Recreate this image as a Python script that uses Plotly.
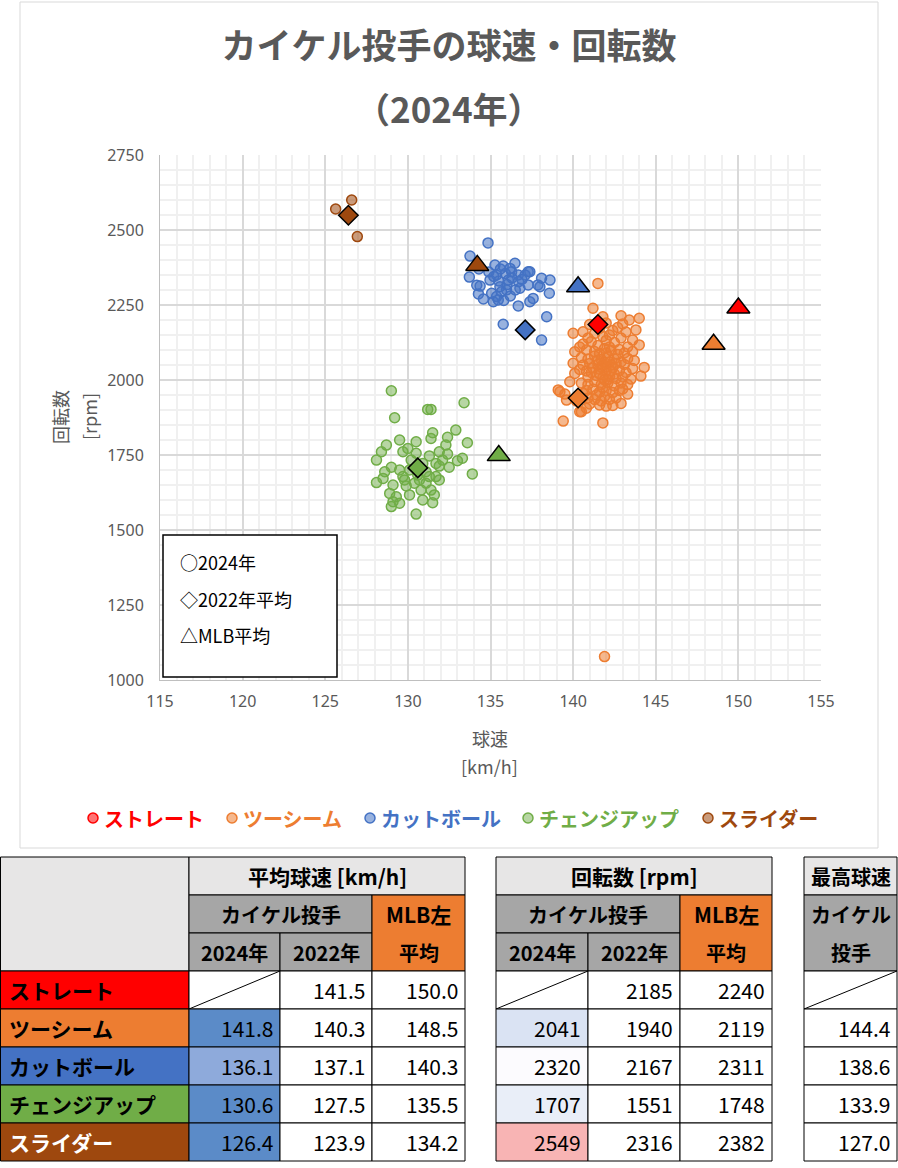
import plotly.graph_objects as go

W, H = 898, 1168
JP = "Noto Sans CJK JP"

# ---------------- data ----------------
pitch_names = ["ストレート", "ツーシーム", "カットボール", "チェンジアップ", "スライダー"]
pitch_colors = ["#ff0000", "#ed7d31", "#4472c4", "#70ad47", "#9e480e"]
pitch_fills = ["rgba(255,0,0,0.55)", "rgba(237,125,49,0.55)", "rgba(68,114,196,0.55)",
               "rgba(112,173,71,0.5)", "rgba(158,72,14,0.55)"]

# table values
speed_2024 = [None, 141.8, 136.1, 130.6, 126.4]
speed_2022 = [141.5, 140.3, 137.1, 127.5, 123.9]
speed_mlb = [150.0, 148.5, 140.3, 135.5, 134.2]
spin_2024 = [None, 2041, 2320, 1707, 2549]
spin_2022 = [2185, 1940, 2167, 1551, 2316]
spin_mlb = [2240, 2119, 2311, 1748, 2382]
max_speed_2024 = [None, 144.4, 138.6, 133.9, 127.0]

# diamond markers as plotted in the chart
diamond_speed = [141.5, 140.3, 137.1, 130.6, 126.4]
diamond_spin = [2185, 1940, 2167, 1707, 2549]

# 2024 individual pitches (speed km/h, spin rpm)
straight_2024 = []
two_seam_2024 = [
    (141.5, 2322), (141.2, 2239), (141.8, 2211), (142.9, 2214), (143.4, 2200), (144.0, 2206), (143.0, 2187),
    (143.8, 2167), (143.6, 2133), (144.0, 2117), (144.3, 2042), (144.1, 2013), (143.3, 1953), (142.9, 1922),
    (142.0, 1913), (141.6, 1917), (140.8, 1906), (140.5, 1894), (140.6, 2161), (140.0, 2156), (140.1, 2094),
    (140.0, 2056), (140.1, 2022), (139.8, 1994), (139.1, 1967), (139.2, 1961), (139.5, 1953), (139.6, 1933),
    (140.4, 1894), (139.4, 1863), (141.8, 1857), (141.9, 1078),
    (141.0, 2185), (141.6, 2172), (142.0, 2190), (142.4, 2165), (142.2, 2150), (141.3, 2155), (140.9, 2140),
    (142.7, 2175), (143.2, 2160), (141.8, 2145),
    (140.6, 2120), (141.1, 2128), (141.5, 2115), (142.0, 2132), (142.5, 2125), (142.9, 2140), (143.3, 2110),
    (140.8, 2100), (141.3, 2095), (141.9, 2105), (142.3, 2098), (142.8, 2102), (143.1, 2090), (143.6, 2095),
    (140.4, 2110),
    (140.5, 2075), (140.9, 2070), (141.3, 2080), (141.7, 2068), (142.1, 2078), (142.5, 2070), (142.9, 2060),
    (143.3, 2072), (143.7, 2065), (141.0, 2055), (141.5, 2052), (141.9, 2058), (142.3, 2050), (142.7, 2085),
    (140.6, 2050), (143.1, 2052), (142.0, 2090), (141.6, 2088),
    (140.4, 2035), (140.8, 2030), (141.2, 2040), (141.6, 2036), (142.0, 2030), (142.4, 2042), (142.8, 2032),
    (143.2, 2025), (143.6, 2038), (140.9, 2010), (141.4, 2015), (141.8, 2008), (142.2, 2012), (142.6, 2005),
    (143.0, 2010), (143.5, 2003), (141.1, 2025), (142.5, 2020), (141.7, 2045), (142.1, 2002),
    (140.5, 1990), (140.9, 1985), (141.3, 1995), (141.7, 1985), (142.1, 1990), (142.5, 1980), (142.9, 1990),
    (143.3, 1985), (140.8, 1965), (141.2, 1970), (141.6, 1960), (142.0, 1965), (142.4, 1958), (142.8, 1965),
    (141.4, 1950), (141.9, 1945), (140.6, 1955), (143.0, 1970),
    (140.9, 1940), (141.3, 1935), (141.7, 1930), (142.2, 1935), (142.6, 1940), (141.0, 1920), (142.4, 1915),
    (140.2, 1930),
    (141.8, 2050), (142.0, 2045), (141.6, 2020), (142.2, 2060), (141.9, 2000), (142.3, 2030), (141.5, 2065),
    (142.6, 2055), (141.8, 1975), (142.2, 2110),
]
cutter_2024 = [
    (134.85, 2457), (133.76, 2413), (133.72, 2343), (134.37, 2313), (134.27, 2287), (134.57, 2270),
    (135.17, 2261), (135.27, 2383), (135.37, 2350), (135.77, 2380), (136.48, 2389), (136.28, 2361),
    (136.68, 2350), (136.08, 2333), (135.57, 2311), (135.97, 2300), (135.47, 2267), (135.07, 2289),
    (136.78, 2306), (137.28, 2361), (137.38, 2361), (137.28, 2317), (138.09, 2339), (138.60, 2333),
    (137.87, 2317), (137.99, 2311), (138.56, 2289), (137.58, 2272), (137.38, 2261), (136.68, 2247),
    (138.40, 2211), (135.77, 2186), (138.09, 2133), (134.97, 2333), (135.37, 2278), (135.67, 2294),
    (136.18, 2372), (134.17, 2316), (135.6, 2370), (135.9, 2355), (136.3, 2340), (136.7, 2328),
    (135.2, 2345), (136.0, 2318), (136.5, 2300), (135.8, 2265), (136.2, 2280), (135.5, 2330),
    (136.9, 2335), (137.1, 2350), (134.3, 2370), (134.9, 2360),
]
changeup_2024 = [
    (129.0, 1964), (131.2, 1902), (131.4, 1902), (133.4, 1924), (129.2, 1874), (131.5, 1824), (131.4, 1805),
    (132.9, 1833), (132.4, 1809), (133.6, 1791), (132.3, 1783), (129.5, 1800), (130.5, 1794), (128.7, 1783),
    (128.4, 1761), (128.1, 1733), (129.7, 1761), (130.0, 1772), (130.5, 1756), (131.3, 1747), (131.9, 1761),
    (132.4, 1753), (133.3, 1739), (133.0, 1731), (132.1, 1733), (131.7, 1722), (132.5, 1709), (131.9, 1713),
    (133.9, 1687), (129.0, 1709), (128.6, 1694), (129.5, 1700), (129.7, 1678), (128.1, 1658), (128.5, 1672),
    (129.1, 1650), (129.9, 1647), (130.7, 1667), (131.1, 1656), (131.7, 1678), (131.9, 1667), (131.4, 1633),
    (130.8, 1633), (128.9, 1622), (129.3, 1611), (129.1, 1594), (129.0, 1578), (129.5, 1589), (130.1, 1617),
    (130.9, 1600), (131.5, 1591), (131.6, 1617), (130.5, 1553), (130.1, 1700), (130.6, 1683), (130.9, 1722),
    (130.2, 1733), (129.8, 1667), (130.4, 1656), (131.1, 1694), (131.3, 1678),
]
slider_2024 = [(125.63, 2570), (126.6, 2600), (126.94, 2478)]
pitches_2024 = [straight_2024, two_seam_2024, cutter_2024, changeup_2024, slider_2024]

# table cell colours (conditional formatting of the original)
speed_2024_bg = [None, "#5b8bc8", "#8eaadb", "#5b8bc8", "#5b8bc8"]
spin_2024_bg = [None, "#dae3f3", "#fcfbfe", "#e9eef8", "#f8b4b4"]

# ---------------- figure ----------------
fig = go.Figure()
for name, col, fill, pts in zip(pitch_names, pitch_colors, pitch_fills, pitches_2024):
    xs = [p[0] for p in pts] or [None]
    ys = [p[1] for p in pts] or [None]
    fig.add_trace(go.Scatter(x=xs, y=ys, mode="markers", name=name, showlegend=False,
                             marker=dict(size=10, color=fill, line=dict(color=col, width=1.5))))
fig.add_trace(go.Scatter(x=diamond_speed, y=diamond_spin, mode="markers", name="2022年平均", showlegend=False,
                         marker=dict(symbol="diamond", size=15, color=pitch_colors,
                                     line=dict(color="black", width=1.5))))
fig.add_trace(go.Scatter(x=speed_mlb, y=spin_mlb, mode="markers", name="MLB平均", showlegend=False,
                         marker=dict(symbol="triangle-up", size=20, color=pitch_colors,
                                     line=dict(color="black", width=1.5))))

shapes = []
annos = []


def X(px):
    return px / W


def Y(py):
    return 1 - py / H


def rect(x0, y0, x1, y1, fill, lc="black", lw=1):
    shapes.append(dict(type="rect", xref="paper", yref="paper", x0=X(x0), x1=X(x1), y0=Y(y1), y1=Y(y0),
                       fillcolor=fill, line=dict(color=lc, width=lw), layer="above"))


def txt(x, y, s, size=20, color="black", bold=False, xanchor="center", family=JP, angle=0):
    if bold:
        s = "<b>" + s + "</b>"
    annos.append(dict(xref="paper", yref="paper", x=X(x), y=Y(y), text=s, showarrow=False,
                      xanchor=xanchor, yanchor="middle", textangle=angle,
                      font=dict(family=family, size=size, color=color)))


# chart border
rect(20, 2, 878, 848, "rgba(0,0,0,0)", lc="#d9d9d9", lw=1)

# title (second line)
txt(449, 107, "（2024年）", size=35, color="#595959", bold=True)

# axis titles
txt(490, 738, "球速", size=18, color="#595959")
txt(490, 766, "[km/h]", size=18, color="#595959")
txt(60, 417, "回転数", size=18, color="#595959", angle=-90)
txt(89, 417, "[rpm]", size=18, color="#595959", angle=-90)

# key box inside plot
rect(163, 535, 337, 677, "white", lw=1.5)
txt(178, 562, "○2024年", size=18, xanchor="left")
txt(178, 599, "◇2022年平均", size=18, xanchor="left")
txt(178, 635, "△MLB平均", size=18, xanchor="left")

# legend (series)
leg_marker_x = [93, 232, 370, 528, 708]
for mx, name, col, fill in zip(leg_marker_x, pitch_names, pitch_colors, pitch_fills):
    shapes.append(dict(type="circle", xref="paper", yref="paper", x0=X(mx - 5), x1=X(mx + 5),
                       y0=Y(823), y1=Y(813), fillcolor=fill, line=dict(color=col, width=1.5), layer="above"))
    txt(mx + 9, 818, name, size=20, color=col, bold=True, xanchor="left")

# ---------------- tables ----------------
R = [857, 895, 933, 971]
data_rows = [971 + 38 * i for i in range(6)]
LG = "#e7e6e6"
DG = "#a6a6a6"
OR = "#ed7d31"
label_text_colors = ["black", "black", "black", "black", "white"]


def fmt1(v):
    return f"{v:.1f}"


def fmt0(v):
    return f"{v:d}"


def value_col(x0, x1, values, fmt, bgs=None):
    for i, v in enumerate(values):
        y0, y1 = data_rows[i], data_rows[i + 1]
        bg = "white" if (bgs is None or bgs[i] is None) else bgs[i]
        rect(x0, y0, x1, y1, bg)
        if v is None:
            shapes.append(dict(type="line", xref="paper", yref="paper", x0=X(x0), y0=Y(y1), x1=X(x1), y1=Y(y0),
                               line=dict(color="black", width=1), layer="above"))
        else:
            txt(x1 - 5, (y0 + y1) / 2, fmt(v), size=21, xanchor="right")


# table 1 : speed
T1 = [0.5, 189, 280, 372, 465]
rect(T1[0], R[0], T1[1], R[3], LG)
rect(T1[1], R[0], T1[4], R[1], LG)
txt((T1[1] + T1[4]) / 2, (R[0] + R[1]) / 2, "平均球速 [km/h]", size=21, bold=True)
rect(T1[1], R[1], T1[3], R[2], DG)
txt((T1[1] + T1[3]) / 2, (R[1] + R[2]) / 2, "カイケル投手", bold=True)
rect(T1[1], R[2], T1[2], R[3], DG)
txt((T1[1] + T1[2]) / 2, (R[2] + R[3]) / 2, "2024年", bold=True)
rect(T1[2], R[2], T1[3], R[3], DG)
txt((T1[2] + T1[3]) / 2, (R[2] + R[3]) / 2, "2022年", bold=True)
rect(T1[3], R[1], T1[4], R[3], OR)
txt((T1[3] + T1[4]) / 2, (R[1] + R[2]) / 2, "MLB左", size=21, bold=True)
txt((T1[3] + T1[4]) / 2, (R[2] + R[3]) / 2, "平均", bold=True)
for i, (name, col) in enumerate(zip(pitch_names, pitch_colors)):
    y0, y1 = data_rows[i], data_rows[i + 1]
    rect(T1[0], y0, T1[1], y1, col)
    txt(7, (y0 + y1) / 2, name, size=21, bold=True, color=label_text_colors[i], xanchor="left")
value_col(T1[1], T1[2], speed_2024, fmt1, speed_2024_bg)
value_col(T1[2], T1[3], speed_2022, fmt1)
value_col(T1[3], T1[4], speed_mlb, fmt1)

# table 2 : spin
T2 = [496, 588, 680, 772]
rect(T2[0], R[0], T2[3], R[1], LG)
txt((T2[0] + T2[3]) / 2, (R[0] + R[1]) / 2, "回転数 [rpm]", size=21, bold=True)
rect(T2[0], R[1], T2[2], R[2], DG)
txt((T2[0] + T2[2]) / 2, (R[1] + R[2]) / 2, "カイケル投手", bold=True)
rect(T2[0], R[2], T2[1], R[3], DG)
txt((T2[0] + T2[1]) / 2, (R[2] + R[3]) / 2, "2024年", bold=True)
rect(T2[1], R[2], T2[2], R[3], DG)
txt((T2[1] + T2[2]) / 2, (R[2] + R[3]) / 2, "2022年", bold=True)
rect(T2[2], R[1], T2[3], R[3], OR)
txt((T2[2] + T2[3]) / 2, (R[1] + R[2]) / 2, "MLB左", size=21, bold=True)
txt((T2[2] + T2[3]) / 2, (R[2] + R[3]) / 2, "平均", bold=True)
value_col(T2[0], T2[1], spin_2024, fmt0, spin_2024_bg)
value_col(T2[1], T2[2], spin_2022, fmt0)
value_col(T2[2], T2[3], spin_mlb, fmt0)

# table 3 : max speed
T3 = [804, 897]
rect(T3[0], R[0], T3[1], R[1], LG)
txt((T3[0] + T3[1]) / 2, (R[0] + R[1]) / 2, "最高球速", bold=True)
rect(T3[0], R[1], T3[1], R[3], DG)
txt((T3[0] + T3[1]) / 2, (R[1] + R[2]) / 2, "カイケル", bold=True)
txt((T3[0] + T3[1]) / 2, (R[2] + R[3]) / 2, "投手", bold=True)
value_col(T3[0], T3[1], max_speed_2024, fmt1)

# ---------------- layout ----------------
axis_font = dict(family="Noto Sans", size=16, color="#595959")
fig.update_layout(
    margin=dict(l=0, r=0, t=0, b=0, autoexpand=False),
    paper_bgcolor="white", plot_bgcolor="white",
    showlegend=False,
    title=dict(text="<b>カイケル投手の球速・回転数</b>", x=449 / W, xanchor="center",
               y=1 - 47 / H, yanchor="middle", yref="container",
               font=dict(family=JP, size=35, color="#595959")),
    xaxis=dict(domain=[160 / W, 821 / W], range=[115, 155], dtick=5, tick0=115,
               showgrid=True, gridcolor="#d9d9d9", gridwidth=2,
               minor=dict(dtick=1, showgrid=True, gridcolor="#f0f0f0", gridwidth=2),
               showline=True, linecolor="#bfbfbf", linewidth=1, zeroline=False,
               ticks="outside", ticklen=7, tickcolor="rgba(0,0,0,0)",
               tickfont=axis_font, fixedrange=True),
    yaxis=dict(domain=[1 - 680 / H, 1 - 155 / H], range=[1000, 2750], dtick=250, tick0=1000,
               showgrid=True, gridcolor="#d9d9d9", gridwidth=2,
               minor=dict(dtick=50, showgrid=True, gridcolor="#f0f0f0", gridwidth=2),
               showline=True, linecolor="#bfbfbf", linewidth=1, zeroline=False,
               ticks="outside", ticklen=12, tickcolor="rgba(0,0,0,0)",
               tickfont=axis_font, fixedrange=True),
    shapes=shapes,
    annotations=annos,
)

# the page div is pinned at the top-left corner so the 898x1168 figure fills the window exactly
fig.write_html(
    "out.html",
    default_width="898px;position:absolute;left:0px;top:0px",
    default_height="1168px",
    config={"responsive": False, "displayModeBar": False},
    post_script="document.body.style.margin='0px';",
)
